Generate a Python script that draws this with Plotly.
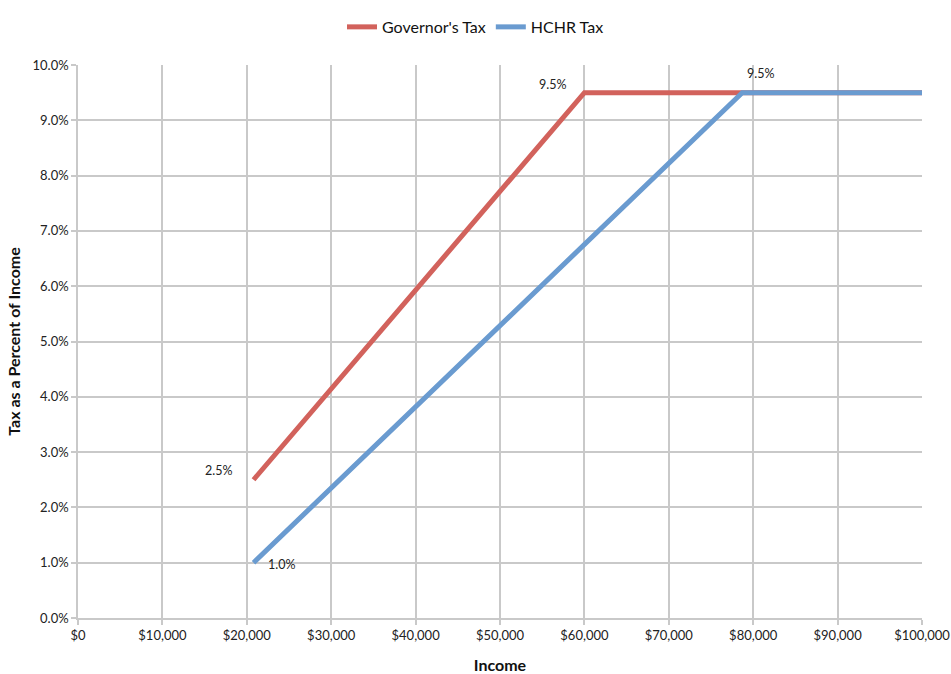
import plotly.graph_objects as go

# Income break points (dollars) and tax share of income (fraction)
governor_income = [20800, 60000, 100000]
governor_rate = [0.025, 0.095, 0.095]

hchr_income = [20800, 78700, 100000]
hchr_rate = [0.010, 0.095, 0.095]

x_ticks = list(range(0, 100001, 10000))
y_ticks = [i / 100 for i in range(0, 11)]

RED = "#D2625C"
BLUE = "#6A9BD0"
GRID = "#C9C9C9"
FONT = "Lato, 'Open Sans', sans-serif"

fig = go.Figure()
fig.add_trace(go.Scatter(
    x=governor_income, y=governor_rate, mode="lines", name="Governor's Tax",
    line=dict(color=RED, width=5),
))
fig.add_trace(go.Scatter(
    x=hchr_income, y=hchr_rate, mode="lines", name="HCHR Tax",
    line=dict(color=BLUE, width=5),
))

# Data labels at the start and kink points of each schedule
labels = [
    (governor_income[0], governor_rate[0], "right", -20, 9),
    (governor_income[1], governor_rate[1], "right", -16, 8),
    (hchr_income[0], hchr_rate[0], "left", 12, -2),
    (hchr_income[1], hchr_rate[1], "left", 3, 19),
]
for x, y, anchor, dx, dy in labels:
    fig.add_annotation(
        x=x, y=y, text=f"{y * 100:.1f}%", showarrow=False,
        xanchor=anchor, yanchor="middle", xshift=dx, yshift=dy,
        font=dict(family=FONT, size=12.5, color="#222222"),
    )

fig.update_layout(
    width=951, height=674,
    margin=dict(l=78, r=29, t=65, b=56, autoexpand=False),
    paper_bgcolor="white", plot_bgcolor="white",
    font=dict(family=FONT, size=13, color="#222222"),
    showlegend=True,
    legend=dict(
        orientation="h", xref="container", x=0.5, xanchor="center",
        yref="container", y=0.96, yanchor="middle",
        font=dict(family=FONT, size=16, color="#111111"),
        itemwidth=30, tracegroupgap=0,
    ),
    xaxis=dict(
        range=[0, 100000], tickvals=x_ticks, tickformat="$,.0f",
        showgrid=True, gridcolor=GRID, gridwidth=1.5,
        showline=True, linecolor=GRID, linewidth=1.5,
        ticks="outside", ticklen=5, tickcolor=GRID, tickwidth=1.5,
        zeroline=False, automargin=False,
        title=dict(text="<b>Income</b>", font=dict(family=FONT, size=16, color="#111111"), standoff=18),
    ),
    yaxis=dict(
        range=[0, 0.1], tickvals=y_ticks, tickformat=".1%",
        showgrid=True, gridcolor=GRID, gridwidth=1.5,
        showline=True, linecolor=GRID, linewidth=1.5,
        ticks="outside", ticklen=5, tickcolor=GRID, tickwidth=1.5,
        zeroline=False, automargin=False,
        title=dict(text="<b>Tax as a Percent of Income</b>", font=dict(family=FONT, size=16, color="#111111"), standoff=8),
    ),
)

fig.write_html("out.html")
